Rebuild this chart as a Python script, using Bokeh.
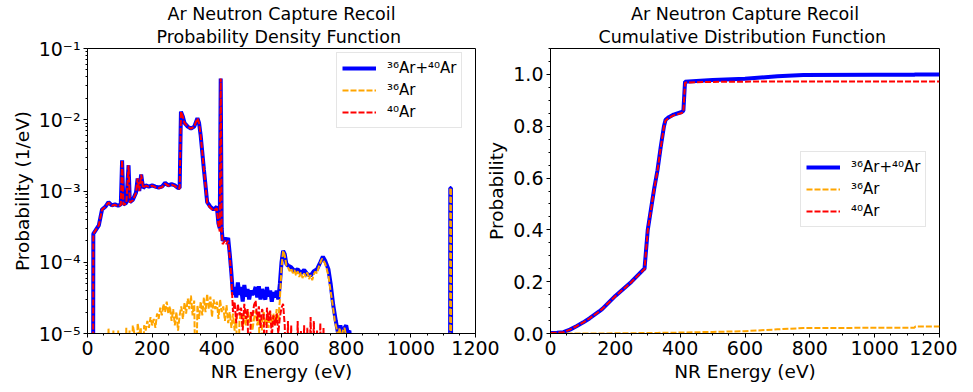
from bokeh.plotting import figure
from bokeh.layouts import row
from bokeh.models import (ColumnDataSource, FixedTicker, SingleIntervalTicker, CustomJSTickFormatter,
                          PrintfTickFormatter, Range1d, Legend, LegendItem, Title)
from bokeh.embed import file_html
from bokeh.resources import INLINE

# ---------------- data: PDF (1/eV) ----------------
energy_total = [0, 17, 18, 25, 35, 45, 55, 65, 75, 85, 95, 103, 107, 111, 120, 127, 131, 140, 150, 155,
                160, 166, 172, 180, 190, 200, 210, 220, 230, 240, 250, 260, 270, 280, 285, 289, 295, 300, 310, 320,
                330, 340, 345, 350, 355, 360, 365, 370, 375, 380, 390, 400, 405, 409, 412, 415, 418, 425, 430, 435,
                440, 445, 450, 455, 460, 465, 470, 475, 480, 485, 490, 495, 500, 505, 510, 515, 520, 525, 530, 535,
                540, 545, 550, 555, 560, 565, 570, 575, 580, 585, 590, 595, 600, 605, 610, 615, 620, 630, 640, 650,
                660, 670, 680, 690, 700, 710, 720, 728, 735, 745, 752, 760, 768, 775, 782, 790, 795, 800, 805, 810,
                815, 830, 1121, 1122, 1124, 1125, 1200]

pdf_total = [1e-7, 1e-7, 2.5e-4, 2.8e-4, 3.3e-4, 5.5e-4, 6.0e-4, 7.0e-4, 6.3e-4, 6.5e-4, 6.2e-4, 6.5e-4, 2.7e-3, 6.5e-4, 6.8e-4, 2.3e-3, 7.0e-4, 7.5e-4, 9.5e-4, 1.5e-3,
             1.0e-3, 1.7e-3, 1.1e-3, 1.2e-3, 1.15e-3, 1.2e-3, 1.15e-3, 1.12e-3, 1.15e-3, 1.3e-3, 1.2e-3, 1.25e-3, 1.2e-3, 1.1e-3, 1.1e-3, 1.3e-2, 1.1e-2, 9.0e-3, 8.0e-3, 7.5e-3,
             8.0e-3, 1.05e-2, 9.0e-3, 6.0e-3, 3.5e-3, 2.0e-3, 1.2e-3, 7.0e-4, 6.5e-4, 6.0e-4, 5.5e-4, 6.0e-4, 3.5e-4, 3.0e-4, 3.8e-2, 3.0e-4, 2.0e-4, 2.2e-4, 2.0e-4, 2.2e-4,
             1.3e-4, 7e-5, 3.5e-5, 4.5e-5, 3.2e-5, 5.2e-5, 3.5e-5, 4.5e-5, 2.8e-5, 4.8e-5, 3.3e-5, 4.2e-5, 3.0e-5, 4.0e-5, 3.5e-5, 3.8e-5, 4.5e-5, 3.2e-5, 4.6e-5, 3.0e-5,
             4.2e-5, 3.5e-5, 3.0e-5, 4.5e-5, 3.3e-5, 4.0e-5, 2.8e-5, 3.8e-5, 3.2e-5, 4.0e-5, 3.0e-5, 5.0e-5, 1.0e-4, 1.45e-4, 1.3e-4, 9.5e-5, 9.0e-5, 8.5e-5, 7.5e-5, 8.0e-5,
             7.0e-5, 7.8e-5, 6.8e-5, 6.5e-5, 7.5e-5, 8.0e-5, 1.0e-4, 1.2e-4, 1.05e-4, 8.0e-5, 5.0e-5, 2.5e-5, 1.5e-5, 1.0e-5, 1.3e-5, 9e-6, 1.2e-5, 1.3e-5, 1.0e-5, 1.1e-5,
             5e-6, 1e-7, 1e-7, 1.1e-3, 1.1e-3, 1e-7, 1e-7]

energy_ar36 = [0, 59, 65, 70, 75, 80, 85, 90, 95, 100, 105, 110, 115, 120, 125, 130, 135, 140, 145, 150,
               155, 160, 165, 170, 175, 180, 185, 190, 195, 200, 205, 210, 215, 220, 225, 230, 235, 240, 245, 250,
               255, 260, 265, 270, 275, 280, 285, 290, 295, 300, 305, 310, 315, 320, 325, 330, 335, 340, 345, 350,
               355, 360, 365, 370, 375, 380, 385, 390, 395, 400, 405, 410, 415, 420, 425, 430, 435, 440, 445, 450,
               455, 460, 465, 470, 475, 480, 485, 490, 495, 500, 505, 510, 515, 520, 525, 530, 535, 540, 545, 550,
               555, 560, 565, 570, 575, 580, 585, 590, 595, 600, 605, 610, 615, 620, 625, 630, 635, 640, 645, 650,
               655, 660, 665, 670, 675, 680, 685, 690, 695, 700, 705, 710, 715, 720, 725, 730, 735, 740, 745, 750,
               755, 760, 765, 770, 775, 780, 785, 790, 795, 800, 805, 810, 815, 1121, 1122, 1124, 1125, 1200]

pdf_ar36 = [1e-7, 1e-7, 1.2e-5, 1e-6, 1e-6, 1.1e-5, 1e-6, 1e-6, 1.1e-5, 1e-6, 1e-6, 1.0e-5, 1e-6, 1.2e-5, 1e-6, 1.1e-5, 1e-6, 1.3e-5, 1.0e-5, 1e-6,
            1.4e-5, 1.0e-5, 1.2e-5, 1e-6, 1.3e-5, 1.1e-5, 1.5e-5, 1.2e-5, 1.7e-5, 1.3e-5, 1.6e-5, 1.2e-5, 1.9e-5, 1.6e-5, 2.3e-5, 1.8e-5, 2.6e-5, 2.0e-5, 2.8e-5, 1.9e-5,
            2.4e-5, 1.5e-5, 2.2e-5, 1.3e-5, 2.0e-5, 1.1e-5, 1.8e-5, 2.4e-5, 1.6e-5, 2.7e-5, 1.9e-5, 3.1e-5, 2.2e-5, 3.4e-5, 1.8e-5, 2.9e-5, 1e-6, 2.5e-5, 1.6e-5, 2.8e-5,
            1.8e-5, 3.2e-5, 2.0e-5, 3.6e-5, 2.2e-5, 3.3e-5, 1.7e-5, 3.0e-5, 2.2e-5, 2.8e-5, 1.6e-5, 3.0e-5, 2.0e-5, 2.4e-5, 1.5e-5, 2.5e-5, 1.4e-5, 2.0e-5, 1.2e-5, 1.9e-5,
            1.1e-5, 1.7e-5, 1e-6, 1.5e-5, 2.0e-5, 1.2e-5, 1.8e-5, 1.3e-5, 2.2e-5, 1.4e-5, 1.9e-5, 1.1e-5, 1.6e-5, 2.1e-5, 1.3e-5, 1.8e-5, 1e-6, 1.5e-5, 2.0e-5, 1.3e-5,
            1.7e-5, 1.2e-5, 2.0e-5, 1.4e-5, 1.9e-5, 1.3e-5, 2.2e-5, 1.5e-5, 3.0e-5, 8.5e-5, 1.45e-4, 1.25e-4, 9.0e-5, 8.5e-5, 7.5e-5, 8.2e-5, 7.0e-5, 7.8e-5, 6.5e-5, 7.5e-5,
            6.2e-5, 7.2e-5, 6.0e-5, 7.0e-5, 6.2e-5, 7.2e-5, 5.8e-5, 6.6e-5, 5.6e-5, 6.8e-5, 7.4e-5, 7.0e-5, 8.5e-5, 9.8e-5, 1.12e-4, 1.05e-4, 9.5e-5, 8.0e-5, 6.5e-5, 4.5e-5,
            3.2e-5, 2.2e-5, 1.5e-5, 1.2e-5, 9e-6, 1.2e-5, 8e-6, 1.1e-5, 1.2e-5, 9e-6, 1.0e-5, 5e-6, 1e-7, 1e-7, 1.1e-3, 1.1e-3, 1e-7, 1e-7]

energy_ar40 = [0, 17, 18, 25, 35, 45, 55, 65, 75, 85, 95, 103, 107, 111, 120, 127, 131, 140, 150, 155,
               160, 166, 172, 180, 190, 200, 210, 220, 230, 240, 250, 260, 270, 280, 285, 289, 295, 300, 310, 320,
               330, 340, 345, 350, 355, 360, 365, 370, 375, 380, 390, 400, 405, 409, 412, 415, 418, 425, 430, 435,
               440, 445, 450, 455, 460, 465, 470, 475, 480, 485, 490, 495, 500, 505, 510, 515, 520, 525, 530, 535,
               540, 545, 550, 555, 560, 565, 570, 575, 580, 585, 590, 595, 600, 605, 610, 615, 620, 625, 630, 635,
               640, 645, 650, 655, 660, 665, 670, 675, 680, 685, 690, 695, 700, 705, 710, 715, 720, 725, 730, 735,
               1200]

pdf_ar40 = [1e-7, 1e-7, 2.5e-4, 2.8e-4, 3.3e-4, 5.5e-4, 6.0e-4, 6.9e-4, 6.2e-4, 6.4e-4, 6.1e-4, 6.4e-4, 2.7e-3, 6.4e-4, 6.7e-4, 2.3e-3, 6.9e-4, 7.4e-4, 9.4e-4, 1.5e-3,
            1.0e-3, 1.7e-3, 1.1e-3, 1.19e-3, 1.14e-3, 1.19e-3, 1.13e-3, 1.1e-3, 1.13e-3, 1.27e-3, 1.18e-3, 1.23e-3, 1.18e-3, 1.08e-3, 1.08e-3, 1.3e-2, 1.1e-2, 9.0e-3, 8.0e-3, 7.5e-3,
            8.0e-3, 1.05e-2, 9.0e-3, 6.0e-3, 3.5e-3, 2.0e-3, 1.2e-3, 6.8e-4, 6.2e-4, 5.8e-4, 5.3e-4, 5.7e-4, 3.3e-4, 2.7e-4, 3.8e-2, 2.8e-4, 1.8e-4, 2.0e-4, 1.8e-4, 2.0e-4,
            1.2e-4, 6e-5, 2.0e-5, 2.8e-5, 1.4e-5, 2.6e-5, 1.8e-5, 2.3e-5, 1.1e-5, 2.6e-5, 1.6e-5, 2.2e-5, 1e-6, 2.0e-5, 1.7e-5, 2.5e-5, 2.9e-5, 1.5e-5, 2.4e-5, 1.2e-5,
            2.2e-5, 1.8e-5, 1e-6, 2.3e-5, 1.5e-5, 2.1e-5, 9e-6, 1.8e-5, 1.3e-5, 1.9e-5, 1.0e-5, 1.7e-5, 2.3e-5, 2.6e-5, 1.3e-5, 1e-6, 1.5e-5, 1e-6, 1.3e-5, 1e-6,
            1.0e-5, 1e-6, 1.5e-5, 1e-6, 1.1e-5, 1e-6, 1.3e-5, 1e-6, 1.2e-5, 1e-6, 1.7e-5, 1e-6, 1.5e-5, 1e-6, 1.1e-5, 1e-6, 1.4e-5, 1e-6, 1.2e-5, 1e-7,
            1e-7]

# ---------------- data: CDF ----------------
cdf_energy = [0, 20, 40, 60, 80, 100, 120, 150, 160, 200, 250, 285, 290, 300, 310, 320, 330, 340, 350, 355,
              365, 380, 405, 410, 415, 450, 500, 600, 700, 780, 1000, 1122, 1126, 1200]
cdf_total = [0.002, 0.003, 0.005, 0.015, 0.028, 0.042, 0.058, 0.085, 0.095, 0.145, 0.20, 0.245, 0.25, 0.40, 0.48, 0.56, 0.63, 0.72, 0.80, 0.825,
             0.835, 0.845, 0.855, 0.86, 0.972, 0.975, 0.978, 0.983, 0.993, 0.998, 0.999, 0.999, 1.0, 1.0]
cdf_ar36 = [0.0, 0.0, 0.0, 0.0, 0.0, 0.0, 0.0, 0.0, 0.0, 0.001, 0.001, 0.002, 0.002, 0.002, 0.002, 0.002, 0.002, 0.003, 0.003, 0.003,
            0.003, 0.003, 0.004, 0.004, 0.004, 0.005, 0.006, 0.009, 0.016, 0.021, 0.022, 0.022, 0.027, 0.027]
cdf_ar40 = [0.002, 0.003, 0.005, 0.015, 0.028, 0.042, 0.058, 0.085, 0.095, 0.144, 0.199, 0.243, 0.248, 0.398, 0.478, 0.558, 0.628, 0.717, 0.797, 0.822,
            0.832, 0.842, 0.851, 0.856, 0.968, 0.970, 0.971, 0.972, 0.973, 0.973, 0.973, 0.973, 0.973, 0.973]

log_ticks = [1e-5, 1e-4, 1e-3, 1e-2, 1e-1]
labels = ["\u00b3\u2076Ar+\u2074\u2070Ar", "\u00b3\u2076Ar", "\u2074\u2070Ar"]

FONT = "DejaVu Sans"
BLUE, ORANGE, RED = "#0000ff", "#ffa500", "#ff0000"


def style(p, line1, line2):
    for txt, so in ((line2, 3), (line1, 0)):
        t = Title(text=txt, align="center", text_font=FONT, text_font_size="17.5px",
                  text_font_style="normal", text_color="black", standoff=so, offset=0)
        p.add_layout(t, "above")
    p.xgrid.visible = False
    p.ygrid.visible = False
    p.outline_line_color = "black"
    p.outline_line_width = 1
    p.outline_line_alpha = 1
    for ax in (p.xaxis[0], p.yaxis[0]):
        ax.axis_line_color = "black"
        ax.major_tick_line_color = "black"
        ax.minor_tick_line_color = "black"
        ax.major_tick_out = 4
        ax.major_tick_in = 0
        ax.minor_tick_out = 2
        ax.minor_tick_in = 0
        ax.major_label_text_font = FONT
        ax.major_label_text_font_size = "19px"
        ax.major_label_text_color = "black"
        ax.axis_label_text_font = FONT
        ax.axis_label_text_font_size = "18.5px"
        ax.axis_label_text_font_style = "normal"
        ax.axis_label_text_color = "black"
        ax.major_label_standoff = 3
        ax.axis_label_standoff = 3
    p.xaxis.ticker = SingleIntervalTicker(interval=200, num_minor_ticks=4)
    p.xaxis.axis_label = "NR Energy (eV)"


def add_legend(p, renderers, loc):
    leg = Legend(items=[LegendItem(label=l, renderers=[r]) for l, r in zip(labels, renderers)],
                 location=loc)
    leg.label_text_font = FONT
    leg.label_text_font_size = "15px"
    leg.label_text_color = "black"
    leg.glyph_width = 34
    leg.glyph_height = 20
    leg.label_height = 20
    leg.label_standoff = 11
    leg.padding = 5
    leg.spacing = 2
    leg.margin = 0
    leg.border_line_color = "#cccccc"
    leg.border_line_width = 1
    leg.background_fill_color = "white"
    leg.background_fill_alpha = 0.8
    p.add_layout(leg, "center")


# ---------------- left: PDF ----------------
s_tot = ColumnDataSource(dict(e=energy_total, v=pdf_total))
s_36 = ColumnDataSource(dict(e=energy_ar36, v=pdf_ar36))
s_40 = ColumnDataSource(dict(e=energy_ar40, v=pdf_ar40))
p1 = figure(width=508, height=384, y_axis_type="log", output_backend="svg", toolbar_location=None,
            x_range=Range1d(0, 1200), y_range=Range1d(1e-5, 1e-1),
            min_border_left=87, min_border_right=33, min_border_top=48, min_border_bottom=51)
style(p1, "Ar Neutron Capture Recoil", " Probability Density Function")
p1.yaxis.axis_label = "Probability (1/eV)"
minor = [m * 10.0 ** k for k in range(-5, -1) for m in range(2, 10)]
p1.yaxis.ticker = FixedTicker(ticks=log_ticks, minor_ticks=minor)
p1.yaxis.formatter = CustomJSTickFormatter(code="""
const e = Math.round(Math.log10(tick));
const sup = {"-":"\u207b","0":"\u2070","1":"\u00b9","2":"\u00b2","3":"\u00b3","4":"\u2074","5":"\u2075","6":"\u2076","7":"\u2077","8":"\u2078","9":"\u2079"};
return "10" + String(e).split("").map(c => sup[c]).join("");
""")
r1 = p1.line("e", "v", source=s_tot, line_color=BLUE, line_width=4)
r2 = p1.line("e", "v", source=s_36, line_color=ORANGE, line_width=2, line_dash="6 2")
r3 = p1.line("e", "v", source=s_40, line_color=RED, line_width=2, line_dash="6 2")
add_legend(p1, [r1, r2, r3], (249, 205))

# ---------------- right: CDF ----------------
src2 = ColumnDataSource(dict(e=cdf_energy, tot=cdf_total, a36=cdf_ar36, a40=cdf_ar40))
p2 = figure(width=477, height=384, output_backend="svg", toolbar_location=None,
            x_range=Range1d(0, 1200), y_range=Range1d(0, 1.1),
            min_border_left=70, min_border_right=18, min_border_top=48, min_border_bottom=51)
style(p2, "Ar Neutron Capture Recoil", " Cumulative Distribution Function")
p2.yaxis.axis_label = "Probability"
p2.yaxis.ticker = SingleIntervalTicker(interval=0.2, num_minor_ticks=4)
p2.yaxis.formatter = PrintfTickFormatter(format="%.1f")
p2.background_fill_alpha = 0
p2.border_fill_alpha = 0
q1 = p2.line("e", "tot", source=src2, line_color=BLUE, line_width=4)
q2 = p2.line("e", "a36", source=src2, line_color=ORANGE, line_width=2, line_dash="6 2")
q3 = p2.line("e", "a40", source=src2, line_color=RED, line_width=2, line_dash="6 2")
add_legend(p2, [q1, q2, q3], (250, 106))
p2.margin = (0, 0, 0, -28)

layout = row(p1, p2)
open("out.html", "w").write(file_html(layout, INLINE))
